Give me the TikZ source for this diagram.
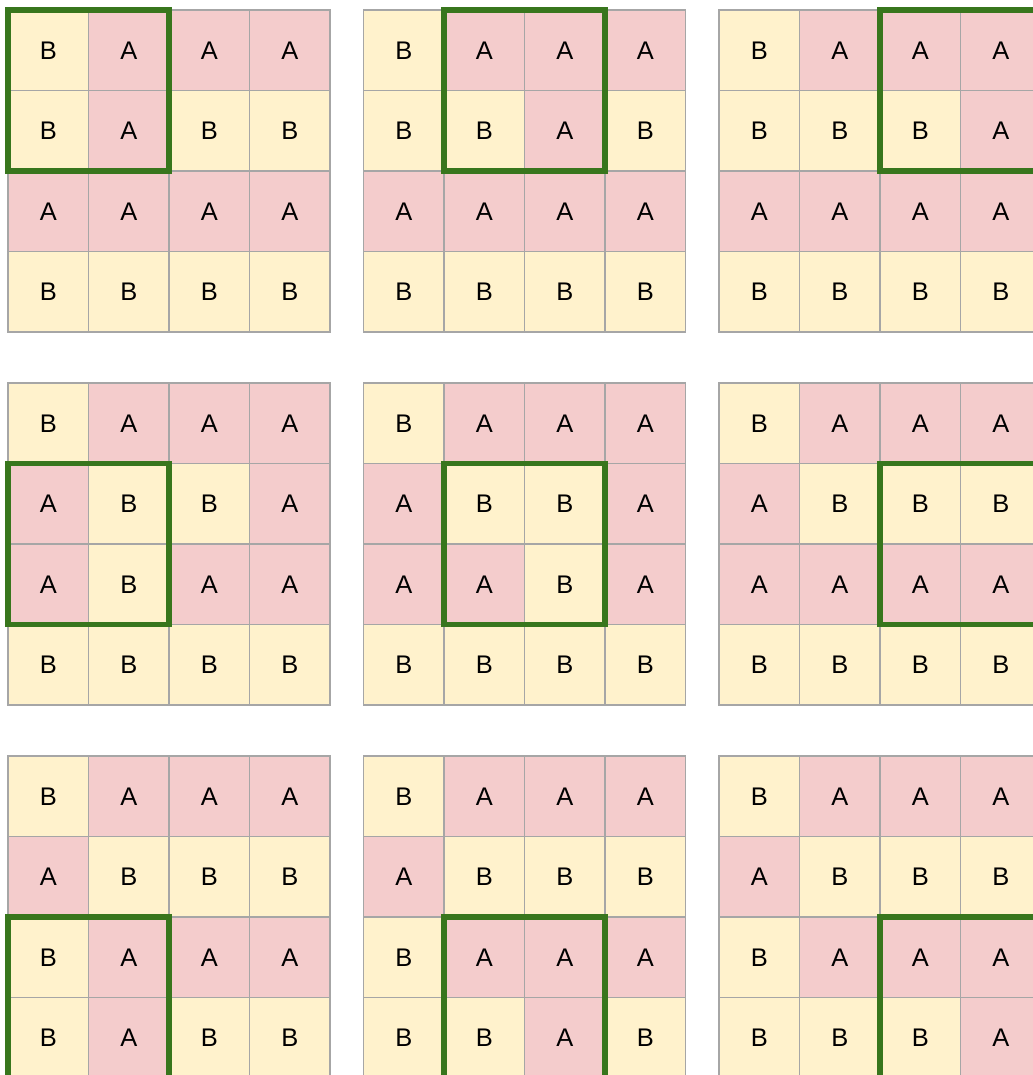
\documentclass[tikz,border=0pt]{standalone}
\usepackage{fontspec}
\setmainfont{Liberation Sans}
\usepackage{xcolor}
\usetikzlibrary{positioning}

\definecolor{cellA}{HTML}{F4CCCC}
\definecolor{cellB}{HTML}{FFF2CC}
\definecolor{gridgrey}{HTML}{A6A6A6}
\definecolor{windowgreen}{HTML}{38761D}

% one 4x4 grid: name, left, top, the 16 letters row by row
\newcommand{\lettergrid}[4]{%
  \foreach \ch [count=\i from 0] in {#4} {
    \pgfmathtruncatemacro{\rw}{int(\i/4)+1}
    \pgfmathtruncatemacro{\cl}{mod(\i,4)+1}
    \node[cell, fill=cell\ch] (#1-\rw-\cl) at ({#2+(\cl-0.5)*80.5},{#3+(\rw-0.5)*80.5}) {\ch};
  }%
}

\begin{document}
\begin{tikzpicture}[
  x=0.02cm, y=-0.02cm,
  cell/.style={draw=gridgrey, line width=1pt, minimum size=1.61cm, inner sep=0pt, outer sep=0pt,
    font=\fontsize{14.5}{16}\selectfont},
  window/.style={draw=windowgreen, line width=3pt}
]
  \useasboundingbox (0,0) rectangle (1033,1075);
  \clip (0,0) rectangle (1033,1075);

  % top row: window in rows 1-2
  \lettergrid{g11}{8}{10}{B,A,A,A,B,A,B,B,A,A,A,A,B,B,B,B}
  \lettergrid{g12}{363.5}{10}{B,A,A,A,B,B,A,B,A,A,A,A,B,B,B,B}
  \lettergrid{g13}{719}{10}{B,A,A,A,B,B,B,A,A,A,A,A,B,B,B,B}

  % middle row: window in rows 2-3
  \lettergrid{g21}{8}{383}{B,A,A,A,A,B,B,A,A,B,A,A,B,B,B,B}
  \lettergrid{g22}{363.5}{383}{B,A,A,A,A,B,B,A,A,A,B,A,B,B,B,B}
  \lettergrid{g23}{719}{383}{B,A,A,A,A,B,B,B,A,A,A,A,B,B,B,B}

  % bottom row: window in rows 3-4
  \lettergrid{g31}{8}{756}{B,A,A,A,A,B,B,B,B,A,A,A,B,A,B,B}
  \lettergrid{g32}{363.5}{756}{B,A,A,A,A,B,B,B,B,A,A,A,B,B,A,B}
  \lettergrid{g33}{719}{756}{B,A,A,A,A,B,B,B,B,A,A,A,B,B,B,A}

  \draw[window] (g11-1-1.north west) rectangle (g11-2-2.south east);
  \draw[window] (g12-1-2.north west) rectangle (g12-2-3.south east);
  \draw[window] (g13-1-3.north west) rectangle (g13-2-4.south east);
  \draw[window] (g21-2-1.north west) rectangle (g21-3-2.south east);
  \draw[window] (g22-2-2.north west) rectangle (g22-3-3.south east);
  \draw[window] (g23-2-3.north west) rectangle (g23-3-4.south east);
  \draw[window] (g31-3-1.north west) rectangle (g31-4-2.south east);
  \draw[window] (g32-3-2.north west) rectangle (g32-4-3.south east);
  \draw[window] (g33-3-3.north west) rectangle (g33-4-4.south east);
\end{tikzpicture}
\end{document}
